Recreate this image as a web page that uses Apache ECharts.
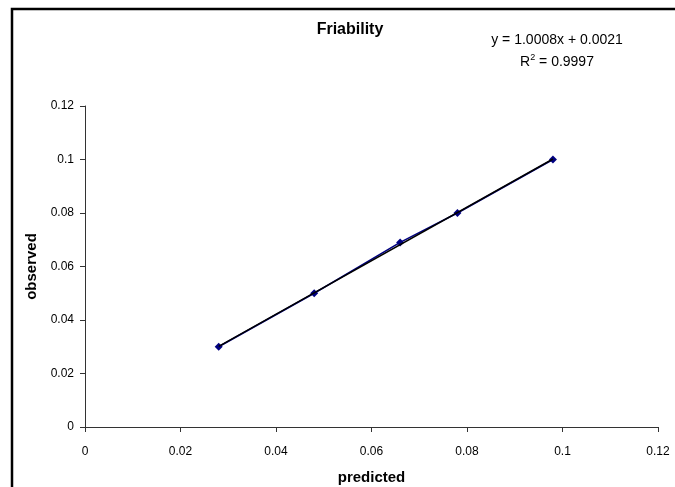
<!DOCTYPE html>
<html><head><meta charset="utf-8">
<script src="https://cdn.jsdelivr.net/npm/echarts@6/dist/echarts.min.js"></script>
<style>html,body{margin:0;padding:0;background:#fff;overflow:hidden}#c{width:675px;height:487px}</style>
</head><body><div id="c"></div>
<script>
const predicted = [0.028, 0.048, 0.066, 0.078, 0.098];
const observed = [0.030, 0.050, 0.069, 0.080, 0.100];
const slope = 1.0008, intercept = 0.0021;
const eqText = 'y = 1.0008x + 0.0021';
const r2Text = 'R{s|2} = 0.9997';
const tickLabels = ['0','0.02','0.04','0.06','0.08','0.1','0.12'];

const xmin = Math.min(...predicted), xmax = Math.max(...predicted);
const trend = [[xmin, slope*xmin+intercept],[xmax, slope*xmax+intercept]];
const font = '"Liberation Sans", Arial, sans-serif';
const chart = echarts.init(document.getElementById('c'), null, {renderer:'canvas'});
chart.setOption({
  animation:false,
  backgroundColor:'#fff',
  title:{text:'Friability', left:345, top:17, textAlign:'center',
    textStyle:{fontFamily:font, fontWeight:'bold', fontSize:16, color:'#000'}},
  graphic:[
    {type:'polyline', shape:{points:[[12,487],[12,9],[675,9]]}, style:{stroke:'#000', lineWidth:2.5, fill:null}},
    {type:'text', x:557, y:40, style:{text:eqText, textAlign:'center', textVerticalAlign:'middle', font:'14px '+font, fill:'#000'}},
    {type:'text', x:557, y:62, style:{text:r2Text, textAlign:'center', textVerticalAlign:'middle', font:'14px '+font, fill:'#000', rich:{s:{fontSize:9, verticalAlign:'top', padding:[0,0,8,0], fontFamily:font}}}}
  ],
  grid:{left:85, right:17, top:106, bottom:60, containLabel:false, outerBoundsMode:'none'},
  xAxis:{type:'value', min:0, max:0.12, interval:0.02,
    name:'predicted', nameLocation:'middle', nameGap:43,
    nameTextStyle:{fontFamily:font, fontWeight:'bold', fontSize:15, color:'#000'},
    axisLine:{show:true, onZero:false, lineStyle:{color:'#333', width:1}},
    axisTick:{show:true, length:5, lineStyle:{color:'#333'}},
    axisLabel:{fontFamily:font, fontSize:12, color:'#000', margin:19,
      formatter:(v,i)=>tickLabels[Math.round(v/0.02)]},
    splitLine:{show:false}},
  yAxis:{type:'value', min:0, max:0.12, interval:0.02,
    name:'observed', nameLocation:'middle', nameGap:42, nameRotate:90,
    nameTextStyle:{fontFamily:font, fontWeight:'bold', fontSize:15, color:'#000'},
    axisLine:{show:true, onZero:false, lineStyle:{color:'#333', width:1}},
    axisTick:{show:true, length:5, lineStyle:{color:'#333'}},
    axisLabel:{fontFamily:font, fontSize:12, color:'#000', margin:11,
      formatter:(v)=>tickLabels[Math.round(v/0.02)]},
    splitLine:{show:false}},
  series:[
    {type:'line', data:predicted.map((x,i)=>[x,observed[i]]), symbol:'diamond', symbolSize:8,
      lineStyle:{color:'#000080', width:1.5}, itemStyle:{color:'#000080'}, z:2},
    {type:'line', data:trend, symbol:'none', lineStyle:{color:'#000', width:1.5}, z:3}
  ]
});
</script></body></html>
